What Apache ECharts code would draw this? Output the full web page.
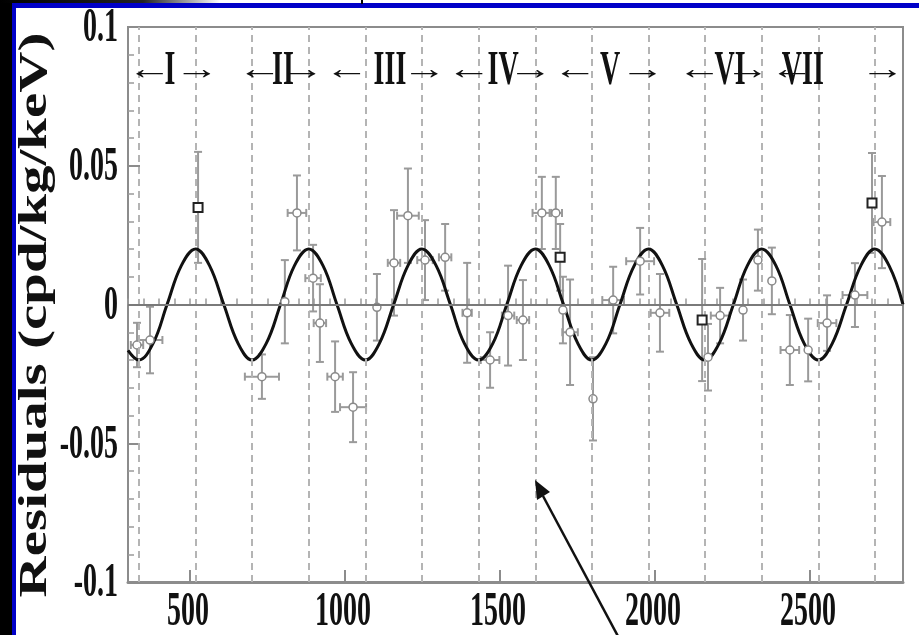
<!DOCTYPE html>
<html>
<head>
<meta charset="utf-8">
<script src="https://cdn.jsdelivr.net/npm/echarts@6/dist/echarts.min.js"></script>
<style>
html, body { margin: 0; padding: 0; background: #fff; }
#chart { width: 919px; height: 635px; }
</style>
</head>
<body>
<div id="chart"></div>
<script>
// modulation fit, every eighth of a year
var fitDays = [300, 335, 381, 426, 472, 518, 563, 609, 655, 700, 746, 792, 837, 883, 929, 974, 1020,
               1066, 1111, 1157, 1203, 1248, 1294, 1340, 1385, 1431, 1477, 1522, 1568, 1614, 1659,
               1705, 1751, 1796, 1842, 1887, 1933, 1979, 2024, 2070, 2116, 2161, 2207, 2253, 2298,
               2344, 2390, 2435, 2481, 2527, 2572, 2618, 2664, 2709, 2755, 2800];
var fitValues = [-0.0165,
                 -0.02, -0.014, 0, 0.014, 0.02, 0.014, 0, -0.014,
                 -0.02, -0.014, 0, 0.014, 0.02, 0.014, 0, -0.014,
                 -0.02, -0.014, 0, 0.014, 0.02, 0.014, 0, -0.014,
                 -0.02, -0.014, 0, 0.014, 0.02, 0.014, 0, -0.014,
                 -0.02, -0.014, 0, 0.014, 0.02, 0.014, 0, -0.014,
                 -0.02, -0.014, 0, 0.014, 0.02, 0.014, 0, -0.014,
                 -0.02, -0.014, 0, 0.014, 0.02, 0.014, 0];

// residuals shown with open circles
var circleDays = [329, 371, 732, 806, 845, 897, 919, 968, 1026, 1103, 1158, 1203, 1258, 1323, 1394,
                  1468, 1526, 1574, 1635, 1680, 1703, 1726, 1800, 1865, 1952, 2016, 2171, 2210, 2284,
                  2332, 2377, 2435, 2494, 2555, 2645, 2732];
var circleValues = [-0.0146, -0.0128, -0.026, 0.001, 0.033, 0.0095, -0.0067, -0.026, -0.037, -0.001,
                    0.015, 0.032, 0.016, 0.017, -0.003, -0.02, -0.004, -0.0056, 0.033, 0.033, -0.002,
                    -0.01, -0.034, 0.0016, 0.0156, -0.003, -0.019, -0.004, -0.002, 0.016, 0.0085,
                    -0.0164, -0.0164, -0.0067, 0.0034, 0.0297];
var circleErrors = [0.008, 0.012, 0.008, 0.015, 0.0135, 0.012, 0.014, 0.0127, 0.0126, 0.012, 0.019,
                    0.017, 0.0144, 0.012, 0.018, 0.01, 0.018, 0.0144, 0.013, 0.013, 0.012, 0.019,
                    0.015, 0.012, 0.012, 0.014, 0.012, 0.01, 0.011, 0.011, 0.012, 0.0126, 0.0113,
                    0.01, 0.0115, 0.0166];
var circleDayErrors = [20, 40, 55, 0, 30, 25, 20, 25, 42, 0, 20, 35, 25, 20, 15, 30, 20, 20, 30, 20,
                       0, 25, 0, 35, 45, 30, 0, 30, 0, 0, 0, 30, 0, 30, 40, 27];

// residuals shown with open squares
var squareDays = [526, 1694, 2152, 2700];
var squareValues = [0.035, 0.017, -0.0056, 0.0366];
var squareErrors = [0.02, 0.012, 0.022, 0.018];

// dashed guides (maxima and minima of the fit)
var dashedDays = [335, 518, 700, 883, 1066, 1248, 1431, 1614, 1796, 1979, 2161, 2344, 2527, 2709];

// annual cycle labels along the top
var cycleTexts = ['←', 'I', '→', '←', 'II', '→←', 'III', '→←', 'IV', '→←', 'V', '→', '←', 'VI', '→←', 'VII', '→'];
var cycleDays = [371, 435, 523, 726, 800, 935, 1145, 1329, 1510, 1671, 1855, 1961, 2145, 2242, 2371, 2477, 2735];
var cycleLevel = 0.084;

var xTickValues = [500, 1000, 1500, 2000, 2500];
var xTickLabels = ['500', '1000', '1500', '2000', '2500'];
var yTickValues = [0.1, 0.05, 0, -0.05, -0.1];
var yTickLabels = ['0.1', '0.05', '0', '-0.05', '-0.1'];
var yTitle = 'Residuals (cpd/kg/keV)';

var chart = echarts.init(document.getElementById('chart'));

var errData = [];
circleDays.forEach(function (d, i) {
    errData.push([d, circleValues[i], circleErrors[i], circleDayErrors[i]]);
});
squareDays.forEach(function (d, i) {
    errData.push([d, squareValues[i], squareErrors[i], 0]);
});

var axisGrey = '#8c8c8c';
var guideLines = dashedDays.map(function (d) {
    return { xAxis: d, lineStyle: { color: '#b4b4b4', width: 2, type: [7, 5] } };
});
guideLines.push({ yAxis: 0, lineStyle: { color: '#7a7a7a', width: 2, type: 'solid' } });

var option = {
    animation: false,
    backgroundColor: '#fff',
    grid: {
        left: 128, top: 27, right: 16, bottom: 53,
        show: true, borderColor: axisGrey, borderWidth: 2, backgroundColor: 'transparent'
    },
    xAxis: [{
        type: 'value', min: 300, max: 2800, position: 'bottom',
        axisLine: { show: true, onZero: false, lineStyle: { color: axisGrey, width: 3 } },
        axisTick: { show: true, inside: true, length: 12, lineStyle: { color: axisGrey, width: 2 } },
        axisLabel: { show: false },
        splitLine: { show: false }
    }, {
        type: 'value', min: 300, max: 2800, interval: 50, position: 'bottom',
        axisLine: { show: false },
        axisTick: { show: true, inside: true, length: 6, lineStyle: { color: '#9a9a9a', width: 1.5 } },
        axisLabel: { show: false },
        splitLine: { show: false }
    }],
    yAxis: {
        type: 'value', min: -0.1, max: 0.1, interval: 0.05,
        axisLine: { show: true, onZero: false, lineStyle: { color: axisGrey, width: 2 } },
        axisTick: { show: true, inside: true, length: 12, lineStyle: { color: axisGrey, width: 2 } },
        minorTick: { show: true, splitNumber: 5, length: 6, lineStyle: { color: '#9a9a9a', width: 1.5 } },
        axisLabel: { show: false },
        splitLine: { show: false }
    },
    series: [{
        name: 'guides',
        type: 'line',
        data: [],
        z: 1,
        markLine: { silent: true, symbol: 'none', label: { show: false }, data: guideLines }
    }, {
        name: 'errors',
        type: 'custom',
        z: 2,
        data: errData,
        encode: { x: 0, y: 1 },
        renderItem: function (params, api) {
            var d = api.value(0), v = api.value(1), e = api.value(2), de = api.value(3);
            var top = api.coord([d, v + e]);
            var bot = api.coord([d, v - e]);
            var st = { stroke: '#9a9a9a', lineWidth: 2 };
            var cap = 4;
            var kids = [
                { type: 'line', shape: { x1: top[0], y1: top[1], x2: bot[0], y2: bot[1] }, style: st },
                { type: 'line', shape: { x1: top[0] - cap, y1: top[1], x2: top[0] + cap, y2: top[1] }, style: st },
                { type: 'line', shape: { x1: bot[0] - cap, y1: bot[1], x2: bot[0] + cap, y2: bot[1] }, style: st }
            ];
            if (de > 0) {
                var l = api.coord([d - de, v]);
                var r = api.coord([d + de, v]);
                kids.push({ type: 'line', shape: { x1: l[0], y1: l[1], x2: r[0], y2: r[1] }, style: st });
                kids.push({ type: 'line', shape: { x1: l[0], y1: l[1] - cap, x2: l[0], y2: l[1] + cap }, style: st });
                kids.push({ type: 'line', shape: { x1: r[0], y1: r[1] - cap, x2: r[0], y2: r[1] + cap }, style: st });
            }
            return { type: 'group', children: kids };
        }
    }, {
        name: 'fit',
        type: 'line',
        z: 3,
        smooth: 0.4,
        showSymbol: false,
        lineStyle: { color: '#111', width: 3 },
        data: fitDays.map(function (d, i) { return [d, fitValues[i]]; })
    }, {
        name: 'circles',
        type: 'scatter',
        z: 4,
        symbol: 'circle',
        symbolSize: 8,
        itemStyle: { color: '#fff', borderColor: '#8a8a8a', borderWidth: 1.5, opacity: 1 },
        data: circleDays.map(function (d, i) { return [d, circleValues[i]]; })
    }, {
        name: 'squares',
        type: 'scatter',
        z: 5,
        symbol: 'rect',
        symbolSize: 9,
        itemStyle: { color: '#fff', borderColor: '#222', borderWidth: 2, opacity: 1 },
        data: squareDays.map(function (d, i) { return [d, squareValues[i]]; })
    }]
};
chart.setOption(option);

// text drawn as graphic so it can take the stretched look of the original
function label(text, x, y, align, sx, sy, size, rot) {
    return {
        type: 'text', x: x, y: y, scaleX: sx, scaleY: sy, rotation: rot || 0, z: 10,
        style: {
            text: text, fill: '#111', fontSize: size, fontWeight: 'bold', fontFamily: 'Liberation Serif',
            align: align, verticalAlign: 'middle', textAlign: align, textVerticalAlign: 'middle'
        }
    };
}

var g = [];
// slide frame
g.push({ type: 'rect', shape: { x: 0, y: 0, width: 12, height: 635 }, style: { fill: '#000' } });
g.push({ type: 'rect', shape: { x: 12, y: 3, width: 4, height: 632 }, style: { fill: '#0000c8' } });
g.push({ type: 'rect', shape: { x: 12, y: 3, width: 907, height: 5 }, style: { fill: '#0000c8' } });
g.push({
    type: 'rect', shape: { x: 0, y: 0, width: 220, height: 3 },
    style: { fill: new echarts.graphic.LinearGradient(0, 0, 1, 0, [
        { offset: 0, color: '#000' }, { offset: 0.65, color: '#222' }, { offset: 1, color: '#fff' }]) }
});
g.push({ type: 'rect', shape: { x: 361, y: 0, width: 2, height: 4 }, style: { fill: '#000' } });

xTickValues.forEach(function (v, i) {
    var p = chart.convertToPixel({ gridIndex: 0 }, [v, -0.1]);
    g.push(label(xTickLabels[i], p[0] - 2, p[1] + 31, 'center', 1, 1.7, 28));
});
yTickValues.forEach(function (v, i) {
    var p = chart.convertToPixel({ gridIndex: 0 }, [300, v]);
    g.push(label(yTickLabels[i], p[0] - 10, p[1] + 2, 'right', 1, 1.7, 28));
});
cycleDays.forEach(function (d, i) {
    var p = chart.convertToPixel({ gridIndex: 0 }, [d, cycleLevel]);
    var t = cycleTexts[i];
    var isArrow = t.indexOf('←') >= 0 || t.indexOf('→') >= 0;
    g.push(label(t, p[0], p[1], 'center', isArrow ? 1.6 : 1, isArrow ? 1.1 : 1.7, 28));
});
g.push(label(yTitle, 36, 315, 'center', 1.46, 1, 39, Math.PI / 2));

// annotation arrow pointing into the plot
g.push({ type: 'line', shape: { x1: 620, y1: 640, x2: 543, y2: 496 }, style: { stroke: '#111', lineWidth: 2.5 }, z: 10 });
g.push({ type: 'polygon', shape: { points: [[535, 480], [550, 492], [537, 500]] }, style: { fill: '#111' }, z: 10 });

chart.setOption({ graphic: g });
window.addEventListener('resize', function () { chart.resize(); });
</script>
</body>
</html>
